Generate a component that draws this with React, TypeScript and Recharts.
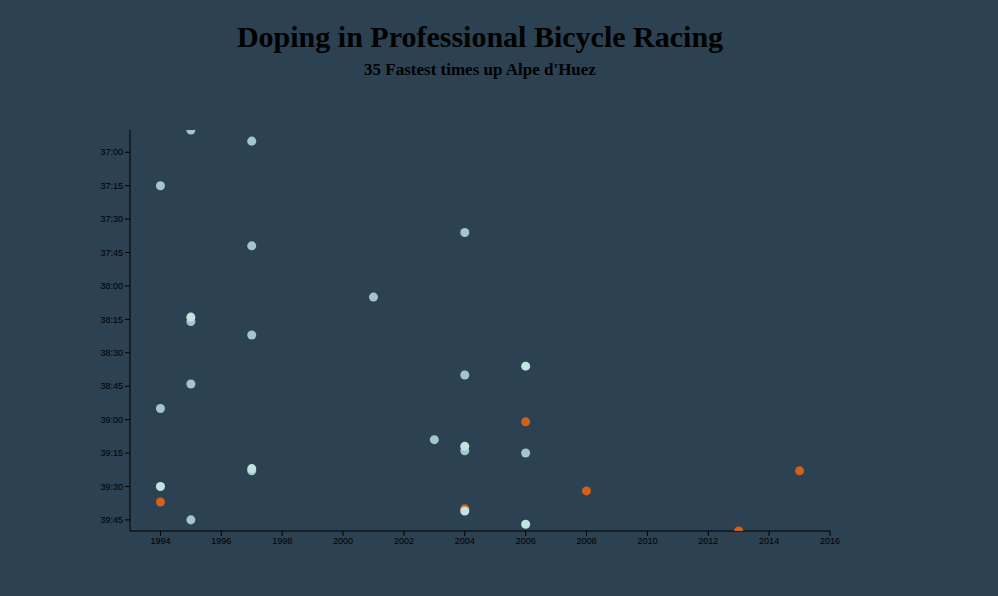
import { ScatterChart, Scatter, XAxis, YAxis, ZAxis } from "recharts";

// seconds for each climb time
const grayYears = [1995, 1997, 1994, 2004, 1997, 2001, 1995, 1997, 2004, 1995, 1994, 2003, 2004, 2006, 1997, 1995];
const graySecs = [2210, 2215, 2235, 2256, 2262, 2285, 2296, 2302, 2320, 2324, 2335, 2349, 2354, 2355, 2363, 2385];
const lightYears = [1995, 2006, 2004, 1997, 1994, 2004, 2006];
const lightSecs = [2294, 2316, 2352, 2362, 2370, 2381, 2387];
const orangeYears = [2006, 1994, 2004, 2008, 2013, 2015];
const orangeSecs = [2341, 2377, 2380, 2372, 2390, 2363];

const xTicks = [1994, 1996, 1998, 2000, 2002, 2004, 2006, 2008, 2010, 2012, 2014, 2016];
const yTicks = [2220, 2235, 2250, 2265, 2280, 2295, 2310, 2325, 2340, 2355, 2370, 2385];

const toPts = (xs: number[], ys: number[]) => xs.map((x, i) => ({ year: x, secs: ys[i] }));
const fmt = (s: number) => `${Math.floor(s / 60)}:${String(s % 60).padStart(2, "0")}`;

const tick = { fill: "#000", fontSize: 9, fontFamily: "Arial, sans-serif" };

export default function App() {
  return (
    <div style={{ position: "fixed", inset: 0, background: "#2c4152" }}>
      <div style={{ position: "absolute", left: 0, width: 960, top: 20, textAlign: "center", fontFamily: "'Liberation Serif', serif", fontWeight: "bold", fontSize: 30, color: "#000" }}>
        Doping in Professional Bicycle Racing
      </div>
      <div style={{ position: "absolute", left: 0, width: 960, top: 60, textAlign: "center", fontFamily: "'Liberation Serif', serif", fontWeight: "bold", fontSize: 17, color: "#000" }}>
        35 Fastest times up Alpe d'Huez
      </div>
      <div style={{ position: "absolute", left: 0, top: 0 }}>
        <ScatterChart width={998} height={596} margin={{ top: 130, right: 168, bottom: 35, left: 80 }}>
          <XAxis type="number" dataKey="year" domain={[1993, 2016]} ticks={xTicks} allowDataOverflow
            stroke="#000" tick={tick} tickSize={5} height={30} />
          <YAxis type="number" dataKey="secs" domain={[2210, 2390]} reversed ticks={yTicks} tickFormatter={fmt}
            stroke="#000" tick={tick} tickSize={5} width={50} allowDataOverflow />
          <ZAxis range={[110, 110]} />
          <Scatter data={toPts(grayYears, graySecs)} fill="#a3c6ca" isAnimationActive={false} />
          <Scatter data={toPts(orangeYears, orangeSecs)} fill="#d4611b" isAnimationActive={false} />
          <Scatter data={toPts(lightYears, lightSecs)} fill="#bfe4e2" isAnimationActive={false} />
        </ScatterChart>
      </div>
    </div>
  );
}
